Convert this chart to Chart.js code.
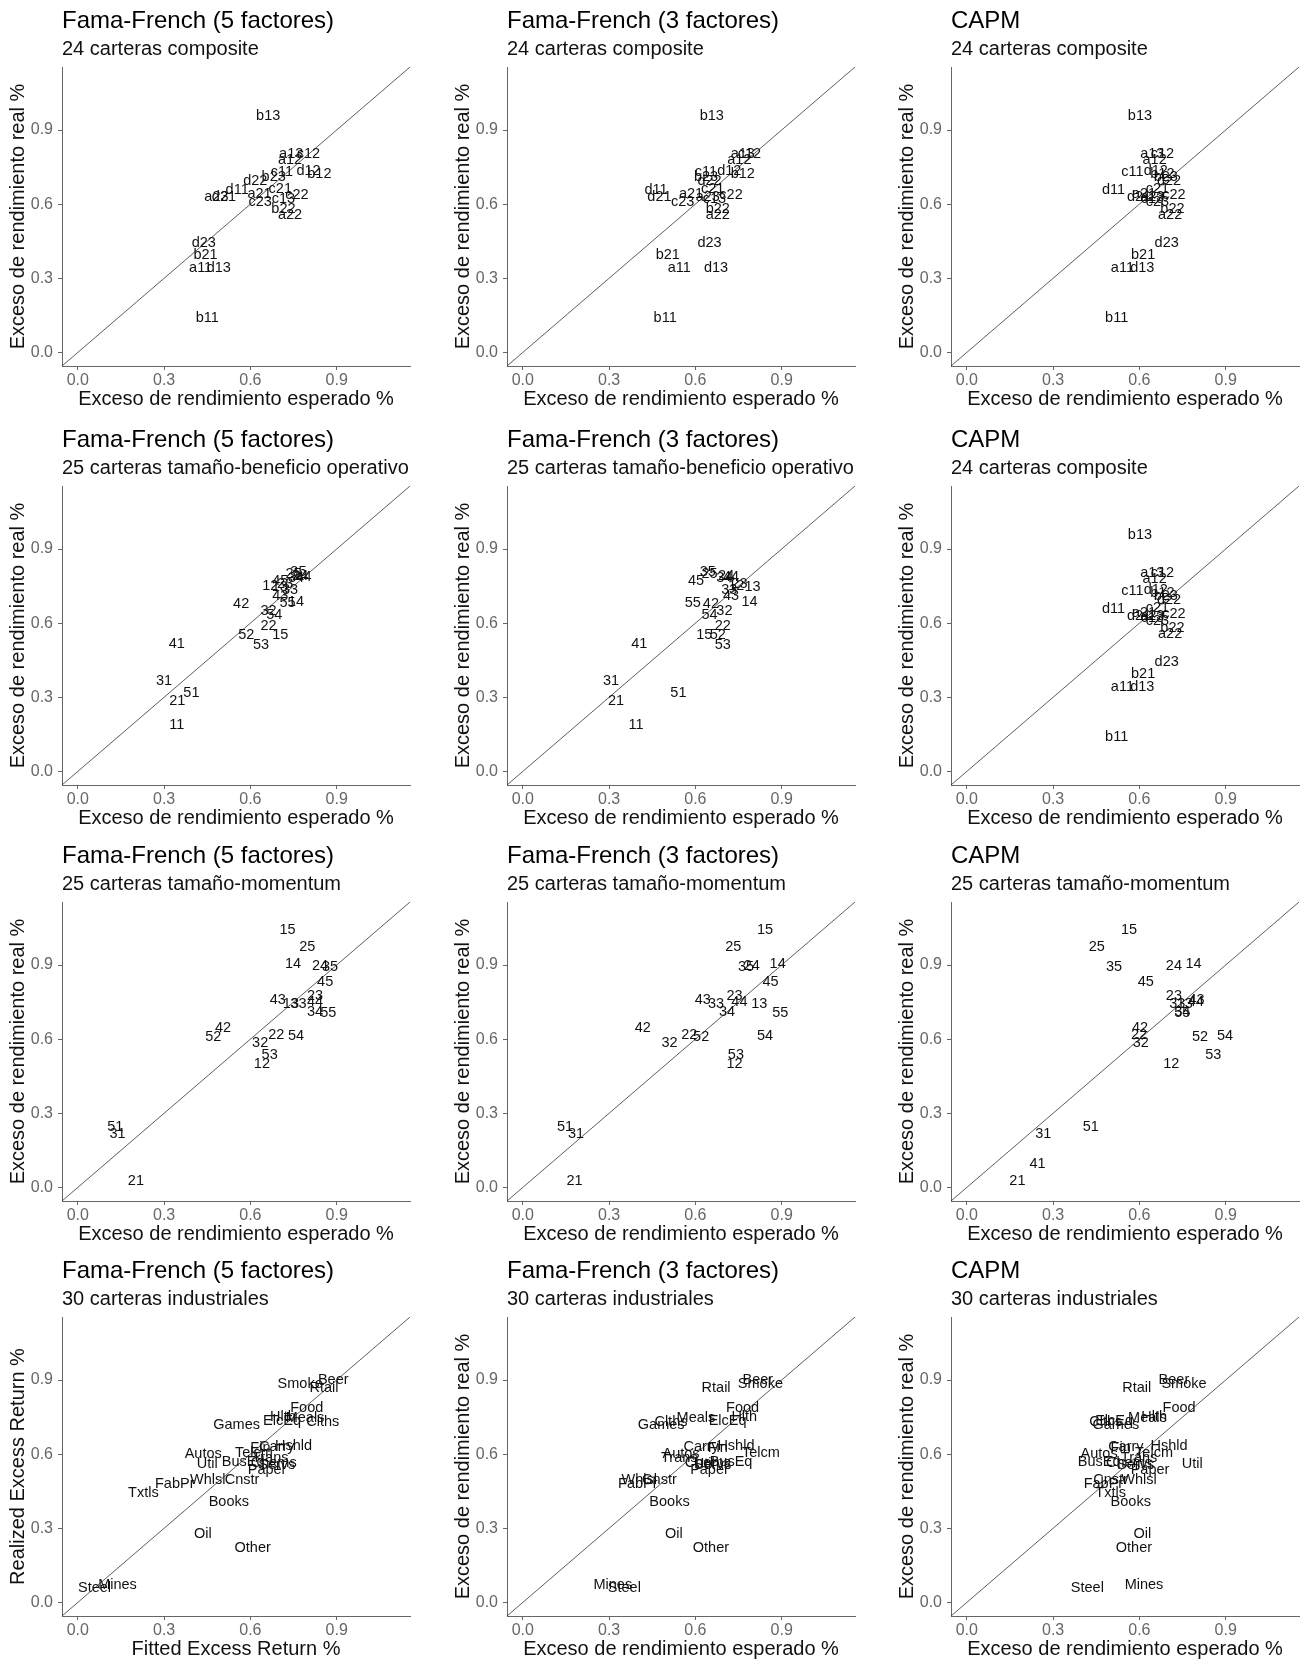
<!DOCTYPE html>
<html>
<head>
<meta charset="utf-8">
<script src="https://cdn.jsdelivr.net/npm/chart.js@4.4.0/dist/chart.umd.min.js"></script>
<style>
  body { margin: 0; background: #fff; }
  #page { position: relative; width: 1304px; height: 1666px; }
  #page canvas { position: absolute; }
</style>
</head>
<body>
<div id="page"></div>
<script>
// axis limits and ticks (same in every panel)
const axisMin = -0.055, axisMax = 1.155;
const tickValues = [0, 0.3, 0.6, 0.9];

// 24 composite portfolios
const compositeLabels = ['a11','a12','a13','a21','a22','a23','b11','b12','b13','b21','b22','b23',
                         'c11','c12','c13','c21','c22','c23','d11','d12','d13','d21','d22','d23'];
const compositeReal = [.343,.779,.803,.640,.555,.630,.141,.722,.958,.394,.580,.708,
                       .732,.803,.622,.663,.638,.607,.658,.736,.343,.628,.692,.443];
const compositeFF5  = [.427,.738,.742,.632,.738,.482,.450,.840,.662,.444,.715,.681,
                       .710,.802,.715,.704,.762,.634,.554,.802,.490,.508,.617,.438];
const compositeFF3  = [.544,.753,.765,.585,.678,.643,.495,.765,.657,.504,.678,.637,
                       .637,.788,.666,.660,.724,.556,.463,.718,.672,.475,.649,.649];
const compositeCAPM = [.541,.653,.645,.616,.707,.645,.521,.680,.602,.613,.715,.692,
                       .576,.680,.645,.663,.720,.663,.510,.657,.610,.599,.703,.695];

// 25 size - operating profitability portfolios
const sizeOpLabels = ['11','12','13','14','15','21','22','23','24','25','31','32','33','34','35',
                      '41','42','43','44','45','51','52','53','54','55'];
const sizeOpReal = [.189,.749,.745,.684,.553,.286,.590,.760,.792,.798,.364,.649,.735,.782,.808,
                    .515,.676,.709,.786,.769,.317,.552,.513,.631,.683];
const sizeOpFF5  = [.344,.669,.702,.759,.704,.346,.663,.721,.773,.750,.300,.663,.738,.759,.767,
                    .344,.568,.704,.785,.704,.395,.586,.637,.683,.729];
const sizeOpFF3  = [.394,.742,.799,.788,.631,.324,.695,.753,.707,.649,.307,.701,.718,.701,.643,
                    .405,.654,.724,.724,.602,.541,.678,.695,.649,.591];

// 25 size - momentum portfolios (11 not shown)
const momLabels = ['12','13','14','15','21','22','23','24','25','31','32','33','34','35',
                   '41','42','43','44','45','51','52','53','54','55'];
const momReal = [.501,.744,.904,1.042,.027,.617,.773,.896,.974,.217,.584,.744,.711,.892,
                 .095,.645,.758,.752,.831,.246,.607,.536,.613,.704];
const momFF5  = [.640,.741,.748,.729,.202,.690,.825,.842,.798,.138,.634,.767,.825,.877,
                 null,.505,.695,.825,.860,.130,.471,.667,.759,.871];
const momFF3  = [.736,.822,.886,.842,.180,.579,.736,.796,.732,.185,.510,.672,.710,.776,
                 null,.417,.626,.753,.861,.147,.620,.741,.842,.895];
const momCAPM = [.711,.758,.788,.564,.176,.599,.720,.720,.452,.266,.605,.732,.749,.512,
                 .246,.602,.799,.796,.622,.431,.811,.857,.898,.749];

// 30 industry portfolios
const indLabels = ['Food','Beer','Smoke','Games','Books','Hshld','Clths','Hlth','Chems','Txtls',
                   'Cnstr','Steel','FabPr','ElcEq','Autos','Carry','Mines','Oil','Util','Telcm',
                   'Servs','BusEq','Paper','Trans','Whlsl','Rtail','Meals','Fin','Other'];
const indReal = [.785,.899,.882,.718,.407,.632,.730,.752,.565,.443,
                 .497,.058,.480,.735,.599,.628,.069,.277,.561,.605,
                 .556,.569,.534,.585,.497,.866,.747,.625,.220];
const indFF5  = [.796,.888,.773,.552,.525,.750,.852,.713,.681,.228,
                 .571,.058,.337,.710,.436,.692,.138,.435,.450,.612,
                 .692,.575,.658,.669,.452,.856,.790,.635,.608];
const indFF3  = [.764,.817,.826,.481,.510,.741,.515,.770,.643,null,
                 .475,.353,.400,.712,.550,.620,.313,.525,.631,.828,
                 .660,.724,.649,.544,.405,.672,.602,.678,.654];
const indCAPM = [.738,.720,.755,.518,.570,.703,.483,.651,.564,.500,
                 .500,.419,.475,.512,.460,.553,.616,.610,.784,.651,
                 .587,.460,.637,.599,.599,.591,.628,.535,.581];

const xTitleEs = 'Exceso de rendimiento esperado %';
const yTitleEs = 'Exceso de rendimiento real %';
const FONT = '"Liberation Sans", Arial, sans-serif';
Chart.defaults.font.family = FONT;

const panels = [
  ['Fama-French (5 factores)', '24 carteras composite', compositeLabels, compositeFF5, compositeReal],
  ['Fama-French (3 factores)', '24 carteras composite', compositeLabels, compositeFF3, compositeReal],
  ['CAPM', '24 carteras composite', compositeLabels, compositeCAPM, compositeReal],
  ['Fama-French (5 factores)', '25 carteras tamaño-beneficio operativo', sizeOpLabels, sizeOpFF5, sizeOpReal],
  ['Fama-French (3 factores)', '25 carteras tamaño-beneficio operativo', sizeOpLabels, sizeOpFF3, sizeOpReal],
  ['CAPM', '24 carteras composite', compositeLabels, compositeCAPM, compositeReal],
  ['Fama-French (5 factores)', '25 carteras tamaño-momentum', momLabels, momFF5, momReal],
  ['Fama-French (3 factores)', '25 carteras tamaño-momentum', momLabels, momFF3, momReal],
  ['CAPM', '25 carteras tamaño-momentum', momLabels, momCAPM, momReal],
  ['Fama-French (5 factores)', '30 carteras industriales', indLabels, indFF5, indReal,
   'Fitted Excess Return %', 'Realized Excess Return %'],
  ['Fama-French (3 factores)', '30 carteras industriales', indLabels, indFF3, indReal],
  ['CAPM', '30 carteras industriales', indLabels, indCAPM, indReal]
];

const colLeft = [0, 445, 889];
const rowTop = [0, 419, 835, 1250];

// title + subtitle aligned with the panel, like ggplot
const headerPlugin = {
  id: 'header',
  afterDraw(chart) {
    const ctx = chart.ctx;
    const opts = chart.options.plugins.header;
    ctx.save();
    ctx.fillStyle = '#000';
    ctx.textAlign = 'left';
    ctx.textBaseline = 'middle';
    ctx.font = '24px ' + FONT;
    ctx.fillText(opts.title, chart.chartArea.left, 21);
    ctx.font = '20px ' + FONT;
    ctx.fillStyle = '#111';
    ctx.fillText(opts.subtitle, chart.chartArea.left, 49);
    ctx.restore();
  }
};

// draw the portfolio names at their points (geom_text)
const textLabels = {
  id: 'textLabels',
  afterDatasetsDraw(chart) {
    const ctx = chart.ctx;
    const meta = chart.getDatasetMeta(1);
    const ds = chart.data.datasets[1];
    ctx.save();
    ctx.beginPath();
    ctx.rect(chart.chartArea.left, chart.chartArea.top, chart.chartArea.width, chart.chartArea.height);
    ctx.clip();
    ctx.font = '14.5px ' + FONT;
    ctx.fillStyle = '#111';
    ctx.textAlign = 'center';
    ctx.textBaseline = 'middle';
    meta.data.forEach((pt, i) => {
      ctx.fillText(ds.data[i].label, pt.x, pt.y);
    });
    ctx.restore();
  }
};

const page = document.getElementById('page');

panels.forEach((p, i) => {
  const [title, subtitle, labels, xs, ys, xTitle, yTitle] = p;
  const canvas = document.createElement('canvas');
  canvas.width = 415;
  canvas.height = 416;
  canvas.style.left = colLeft[i % 3] + 'px';
  canvas.style.top = rowTop[Math.floor(i / 3)] + 'px';
  page.appendChild(canvas);

  const points = [];
  labels.forEach((lab, k) => {
    if (xs[k] !== null && ys[k] !== null) points.push({ x: xs[k], y: ys[k], label: lab });
  });

  const axisStyle = {
    type: 'linear',
    min: axisMin,
    max: axisMax,
    afterBuildTicks: s => { s.ticks = tickValues.map(v => ({ value: v })); },
    grid: { display: true, drawOnChartArea: false, drawTicks: true, tickLength: 4, color: '#666' },
    border: { display: true, color: '#666', width: 1 }
  };

  new Chart(canvas, {
    type: 'scatter',
    data: {
      datasets: [
        {
          type: 'line',
          data: [{ x: axisMin, y: axisMin }, { x: axisMax, y: axisMax }],
          borderColor: '#333',
          borderWidth: 0.8,
          pointRadius: 0,
          fill: false
        },
        {
          data: points,
          pointRadius: 0,
          pointHoverRadius: 0
        }
      ]
    },
    options: {
      responsive: false,
      animation: false,
      events: [],
      layout: { padding: { top: 67, right: 5, left: 0, bottom: 0 } },
      plugins: {
        legend: { display: false },
        tooltip: { enabled: false },
        header: { title: title, subtitle: subtitle }
      },
      scales: {
        x: Object.assign({}, axisStyle, {
          afterFit: s => { s.height = 50; },
          ticks: { color: '#666', font: { size: 16 }, padding: 1, callback: v => v.toFixed(1) },
          title: { display: true, text: xTitle || xTitleEs, color: '#111', font: { size: 20 }, padding: { top: 0, bottom: 5 } }
        }),
        y: Object.assign({}, axisStyle, {
          afterFit: s => { s.width = 62; },
          ticks: { color: '#666', font: { size: 16 }, padding: 5, callback: v => v.toFixed(1) },
          title: { display: true, text: yTitle || yTitleEs, color: '#111', font: { size: 20 }, padding: { top: 6, bottom: 0 } }
        })
      }
    },
    plugins: [headerPlugin, textLabels]
  });
});
</script>
</body>
</html>
